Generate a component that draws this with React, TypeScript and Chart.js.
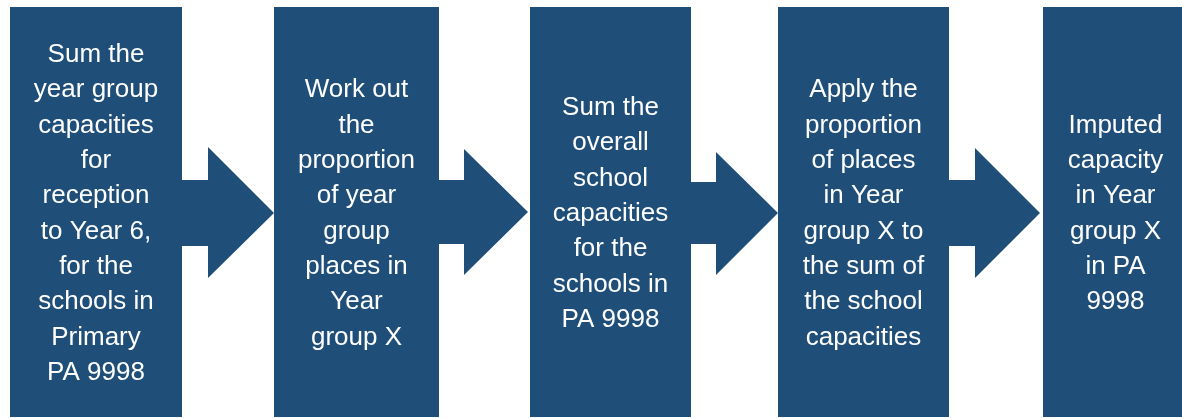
import React, { useEffect, useRef } from "react";
import { Chart, registerables } from "chart.js";

Chart.register(...registerables);

// Step texts (one entry per box, lines as shown)
const stepLines: string[][] = [
  ["Sum the", "year group", "capacities", "for", "reception", "to Year 6,", "for the", "schools in", "Primary", "PA 9998"],
  ["Work out", "the", "proportion", "of year", "group", "places in", "Year", "group X"],
  ["Sum the", "overall", "school", "capacities", "for the", "schools in", "PA 9998"],
  ["Apply the", "proportion", "of places", "in Year", "group X to", "the sum of", "the school", "capacities"],
  ["Imputed", "capacity", "in Year", "group X", "in PA", "9998"],
];

// Box geometry (diagram units = page pixels)
const boxLeft = [10, 274, 530, 778, 1043];
const boxRight = [182, 439, 691, 949, 1188];
const boxTop = [7, 7, 7, 7, 7];
const boxBottom = [417, 417, 417, 417, 417];

// Arrow geometry
const arrowStart = [181, 438, 690, 948];
const shaftTop = [180, 180, 182, 180];
const shaftBottom = [246, 244, 244, 246];
const headX = [208, 464, 716, 975];
const headTop = [147, 149, 152, 148];
const headBottom = [278, 275, 275, 278];
const tipX = [274, 528, 778, 1040];
const tipY = [213, 212, 213, 213];

const FILL = "#1F4E79";
const FONT_SIZE = 26;
const LINE_H = 35.3;

export default function App() {
  const ref = useRef<HTMLCanvasElement | null>(null);

  useEffect(() => {
    if (!ref.current) return;

    const datasets: any[] = [];
    boxLeft.forEach((l, i) => {
      const r = boxRight[i];
      const t = boxTop[i];
      const b = boxBottom[i];
      datasets.push({
        label: "box" + i,
        data: [
          { x: l, y: t },
          { x: r, y: t },
          { x: r, y: b },
          { x: l, y: b },
          { x: l, y: t },
        ],
        showLine: true,
        fill: "shape",
        backgroundColor: FILL,
        borderColor: "transparent",
        borderWidth: 0,
        pointRadius: 0,
        tension: 0,
      });
    });
    arrowStart.forEach((s, i) => {
      datasets.push({
        label: "arrow" + i,
        data: [
          { x: s, y: shaftTop[i] },
          { x: headX[i], y: shaftTop[i] },
          { x: headX[i], y: headTop[i] },
          { x: tipX[i], y: tipY[i] },
          { x: headX[i], y: headBottom[i] },
          { x: headX[i], y: shaftBottom[i] },
          { x: s, y: shaftBottom[i] },
          { x: s, y: shaftTop[i] },
        ],
        showLine: true,
        fill: "shape",
        backgroundColor: FILL,
        borderColor: "transparent",
        borderWidth: 0,
        pointRadius: 0,
        tension: 0,
      });
    });

    const textPlugin = {
      id: "stepText",
      afterDatasetsDraw(chart: any) {
        const ctx = chart.ctx;
        const xs = chart.scales.x;
        const ys = chart.scales.y;
        ctx.save();
        ctx.fillStyle = "#ffffff";
        ctx.font = `${FONT_SIZE}px "Liberation Sans", Arial, sans-serif`;
        ctx.textAlign = "center";
        ctx.textBaseline = "alphabetic";
        stepLines.forEach((lines, i) => {
          const cx = xs.getPixelForValue((boxLeft[i] + boxRight[i]) / 2);
          const cy = ys.getPixelForValue((boxTop[i] + boxBottom[i]) / 2);
          const n = lines.length;
          lines.forEach((line, j) => {
            const y = cy + (j - (n - 1) / 2) * LINE_H + 9;
            ctx.fillText(line, cx, y);
          });
        });
        ctx.restore();
      },
    };

    const chart = new Chart(ref.current, {
      type: "scatter",
      data: { datasets },
      options: {
        animation: false,
        responsive: false,
        devicePixelRatio: 1,
        layout: { padding: 0 },
        plugins: {
          legend: { display: false },
          tooltip: { enabled: false },
          title: { display: false },
        },
        scales: {
          x: { type: "linear", min: 0, max: 1182, display: false },
          y: { type: "linear", min: 0, max: 418, reverse: true, display: false },
        },
      },
      plugins: [textPlugin],
    });

    return () => chart.destroy();
  }, []);

  return (
    <div style={{ position: "absolute", left: 0, top: 0, width: 1182, height: 418, background: "#ffffff" }}>
      <canvas ref={ref} width={1182} height={418} style={{ width: 1182, height: 418, display: "block" }} />
    </div>
  );
}
